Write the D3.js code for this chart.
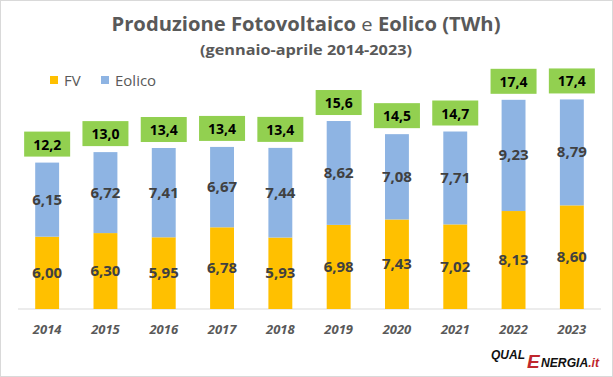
<!DOCTYPE html>
<html>
<head>
<meta charset="utf-8">
<script src="https://cdn.jsdelivr.net/npm/d3@7"></script>
<style>
  body { margin: 0; background: #fff; }
  svg { display: block; font-family: "Open Sans", "Liberation Sans", sans-serif; }
</style>
</head>
<body>
<svg id="chart"></svg>
<script>
// data
const years = ["2014", "2015", "2016", "2017", "2018", "2019", "2020", "2021", "2022", "2023"];
const fv = [6.00, 6.30, 5.95, 6.78, 5.93, 6.98, 7.43, 7.02, 8.13, 8.60];
const eolico = [6.15, 6.72, 7.41, 6.67, 7.44, 8.62, 7.08, 7.71, 9.23, 8.79];
const totals = ["12,2", "13,0", "13,4", "13,4", "13,4", "15,6", "14,5", "14,7", "17,4", "17,4"];
const seriesNames = ["FV", "Eolico"];

const W = 613, H = 377;
const colors = { FV: "#FFC000", Eolico: "#8EB4E3" };
const fmt = v => v.toFixed(2).replace(".", ",");

const svg = d3.select("#chart").attr("width", W).attr("height", H);

// frame
svg.append("rect")
  .attr("x", 0.5).attr("y", 0.5)
  .attr("width", W - 1).attr("height", H - 1)
  .attr("fill", "#fff").attr("stroke", "#d9d9d9");

let x = d3.scaleBand()
  .domain(years)
  .range([18, 601])
  .paddingInner(0.59)
  .paddingOuter(0.295);

let y = d3.scaleLinear()
  .domain([0, 20])
  .range([309, 68]);

// titles
svg.append("text")
  .attr("x", 306).attr("y", 31)
  .attr("text-anchor", "middle")
  .attr("font-size", 19).attr("font-weight", "bold").attr("fill", "#595959")
  .attr("textLength", 389).attr("lengthAdjust", "spacingAndGlyphs")
  .html('Produzione Fotovoltaico <tspan font-weight="normal">e</tspan> Eolico (TWh)');

svg.append("text")
  .attr("x", 306).attr("y", 55)
  .attr("text-anchor", "middle")
  .attr("font-size", 14).attr("font-weight", "bold").attr("fill", "#595959")
  .attr("textLength", 212).attr("lengthAdjust", "spacingAndGlyphs")
  .text("(gennaio-aprile 2014-2023)");

// legend
const legendX = [50, 101];
const legend = svg.append("g").selectAll("g")
  .data(seriesNames)
  .enter().append("g")
  .attr("transform", (d, i) => "translate(" + legendX[i] + ",0)");
legend.append("rect")
  .attr("x", 0).attr("y", 76)
  .attr("width", 8).attr("height", 8)
  .attr("fill", d => colors[d]);
legend.append("text")
  .attr("x", 14).attr("y", 86)
  .attr("font-size", 15).attr("fill", "#595959")
  .text(d => d);

// axis line
svg.append("line")
  .attr("x1", x.range()[0]).attr("x2", x.range()[1])
  .attr("y1", y(0)).attr("y2", y(0))
  .attr("stroke", "#d9d9d9");

// year labels
const xAxis = d3.axisBottom(x).tickSize(0).tickPadding(0);
const gx = svg.append("g")
  .attr("transform", "translate(0," + y(0) + ")")
  .call(xAxis);
gx.select(".domain").remove();
gx.selectAll("text")
  .attr("dy", 0).attr("y", 25)
  .attr("font-family", "'Open Sans', sans-serif")
  .attr("font-size", 13).attr("font-style", "italic").attr("font-weight", "bold")
  .attr("fill", "#595959");

// bars
const rows = years.map((yr, i) => ({ year: yr, fv: fv[i], eolico: eolico[i], total: totals[i] }));
const bars = svg.append("g").selectAll("g")
  .data(rows)
  .enter().append("g");

bars.append("rect")
  .attr("x", d => x(d.year))
  .attr("width", x.bandwidth())
  .attr("y", d => y(d.fv))
  .attr("height", d => y(0) - y(d.fv))
  .attr("fill", colors.FV);

bars.append("rect")
  .attr("x", d => x(d.year))
  .attr("width", x.bandwidth())
  .attr("y", d => y(d.fv + d.eolico))
  .attr("height", d => y(d.fv) - y(d.fv + d.eolico))
  .attr("fill", colors.Eolico);

// segment labels
bars.append("text")
  .attr("x", d => x(d.year) + x.bandwidth() / 2)
  .attr("y", d => (y(0) + y(d.fv)) / 2 + 5)
  .attr("text-anchor", "middle")
  .attr("font-size", 15).attr("font-weight", "bold").attr("fill", "#404040")
  .text(d => fmt(d.fv));

bars.append("text")
  .attr("x", d => x(d.year) + x.bandwidth() / 2)
  .attr("y", d => (y(d.fv) + y(d.fv + d.eolico)) / 2 + 5)
  .attr("text-anchor", "middle")
  .attr("font-size", 15).attr("font-weight", "bold").attr("fill", "#404040")
  .text(d => fmt(d.eolico));

// total boxes
bars.append("rect")
  .attr("x", d => x(d.year) + x.bandwidth() / 2 - 23)
  .attr("y", d => y(d.fv + d.eolico) - 31)
  .attr("width", 46).attr("height", 25)
  .attr("fill", "#92D050");

bars.append("text")
  .attr("x", d => x(d.year) + x.bandwidth() / 2)
  .attr("y", d => y(d.fv + d.eolico) - 13)
  .attr("text-anchor", "middle")
  .attr("font-size", 14).attr("font-weight", "bold").attr("fill", "#000")
  .text(d => d.total);

// logo
const logo = svg.append("g")
  .attr("font-family", "'Liberation Sans', Arial, sans-serif")
  .attr("font-style", "italic").attr("font-weight", "bold");
logo.append("text")
  .attr("x", 491).attr("y", 359)
  .attr("font-size", 13).attr("fill", "#111")
  .attr("textLength", 34).attr("lengthAdjust", "spacingAndGlyphs")
  .text("QUAL");
logo.append("text")
  .attr("x", 527).attr("y", 367.5)
  .attr("font-size", 19).attr("fill", "#c0272d")
  .text("E");
const tail = logo.append("text")
  .attr("x", 541).attr("y", 367)
  .attr("font-size", 12.5).attr("fill", "#111")
  .attr("textLength", 58).attr("lengthAdjust", "spacingAndGlyphs");
tail.append("tspan").text("NERGIA");
tail.append("tspan").attr("fill", "#c0272d").text(".it");
</script>
</body>
</html>
